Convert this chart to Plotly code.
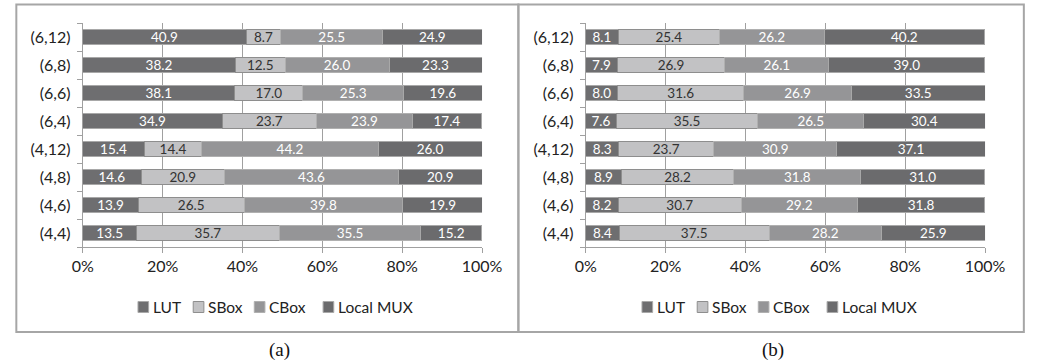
import plotly.graph_objects as go

categories = ["(4,4)", "(4,6)", "(4,8)", "(4,12)", "(6,4)", "(6,6)", "(6,8)", "(6,12)"]
series_names = ["LUT", "SBox", "CBox", "Local MUX"]

a_lut = [13.5, 13.9, 14.6, 15.4, 34.9, 38.1, 38.2, 40.9]
a_sbox = [35.7, 26.5, 20.9, 14.4, 23.7, 17.0, 12.5, 8.7]
a_cbox = [35.5, 39.8, 43.6, 44.2, 23.9, 25.3, 26.0, 25.5]
a_mux = [15.2, 19.9, 20.9, 26.0, 17.4, 19.6, 23.3, 24.9]

b_lut = [8.4, 8.2, 8.9, 8.3, 7.6, 8.0, 7.9, 8.1]
b_sbox = [37.5, 30.7, 28.2, 23.7, 35.5, 31.6, 26.9, 25.4]
b_cbox = [28.2, 29.2, 31.8, 30.9, 26.5, 26.9, 26.1, 26.2]
b_mux = [25.9, 31.8, 31.0, 37.1, 30.4, 33.5, 39.0, 40.2]

x_ticks = [0, 20, 40, 60, 80, 100]
x_tick_labels = ["0%", "20%", "40%", "60%", "80%", "100%"]

colors = ["#6e6e70", "#c2c2c4", "#959597", "#6b6b6d"]
line_colors = ["#a8a8a8", "#8e8e8e", "#b0b0b0", "#a8a8a8"]
text_colors = ["white", "#333333", "white", "white"]

W, H = 1040, 364
def px(x):
    return x / W
def py(y):
    return 1 - y / H

fig = go.Figure()

panels = [
    ([a_lut, a_sbox, a_cbox, a_mux], "x", "y"),
    ([b_lut, b_sbox, b_cbox, b_mux], "x2", "y2"),
]
for vals, xa, ya in panels:
    for i, name in enumerate(series_names):
        fig.add_trace(go.Bar(
            y=categories, x=vals[i], name=name, orientation="h",
            marker=dict(color=colors[i], line=dict(color=line_colors[i], width=1)),
            text=[f"{v:.1f}" for v in vals[i]],
            textposition="inside", insidetextanchor="middle", textangle=0,
            constraintext="none",
            textfont=dict(family="Lato", size=13.5, color=text_colors[i]),
            xaxis=xa, yaxis=ya, showlegend=False, hoverinfo="skip",
        ))

ydom = [py(247), py(23)]
xcommon = dict(range=[0, 100], tickvals=x_ticks, ticktext=x_tick_labels,
               showgrid=True, gridcolor="#a0a0a0", gridwidth=1,
               showline=True, linecolor="#a0a0a0", linewidth=1,
               ticks="outside", ticklen=5, tickcolor="#a0a0a0",
               tickfont=dict(family="Lato", size=16, color="#222222"),
               zeroline=False, fixedrange=True)
ycommon = dict(type="category", categoryorder="array", categoryarray=categories,
               showline=True, linecolor="#a0a0a0", linewidth=1,
               ticks="outside", ticklen=5, tickcolor="#a0a0a0", tickson="boundaries",
               tickfont=dict(family="Lato", size=16, color="#222222"),
               showgrid=False, domain=ydom, ticklabelstandoff=8)

shapes = [
    dict(type="rect", xref="paper", yref="paper", x0=px(5.5), x1=px(523.5),
         y0=py(332), y1=py(4.5), line=dict(color="#a6a6a6", width=2)),
    dict(type="rect", xref="paper", yref="paper", x0=px(523.5), x1=px(1045),
         y0=py(332), y1=py(4.5), line=dict(color="#a6a6a6", width=2)),
]
annotations = [
    dict(text="(a)", x=px(277), y=py(350), xref="paper", yref="paper",
         showarrow=False, xanchor="center", yanchor="middle",
         font=dict(family="Liberation Serif", size=19, color="#111111")),
    dict(text="(b)", x=px(786), y=py(350), xref="paper", yref="paper",
         showarrow=False, xanchor="center", yanchor="middle",
         font=dict(family="Liberation Serif", size=19, color="#111111")),
]

# legend (drawn as key squares + real text)
legend_offsets = [0, 520]
legend_square_x = [131, 188, 251, 322]
legend_y = 307
for off in legend_offsets:
    for i, name in enumerate(series_names):
        x0 = legend_square_x[i] + off
        shapes.append(dict(type="rect", xref="paper", yref="paper",
                           x0=px(x0), x1=px(x0 + 11), y0=py(legend_y + 5.5), y1=py(legend_y - 5.5),
                           fillcolor=colors[i], line=dict(color=line_colors[i], width=1)))
        annotations.append(dict(text=name, x=px(x0 + 13), y=py(legend_y), xref="paper", yref="paper",
                                showarrow=False, xanchor="left", yanchor="middle",
                                font=dict(family="Lato", size=15.5, color="#222222")))

fig.update_layout(
    width=W, height=H, margin=dict(l=0, r=0, t=0, b=0),
    paper_bgcolor="white", plot_bgcolor="white",
    barmode="stack", bargap=0.43,
    xaxis=dict(domain=[px(74), px(486)], anchor="y", **xcommon),
    yaxis=dict(anchor="x", **ycommon),
    xaxis2=dict(domain=[px(593), px(1005)], anchor="y2", **xcommon),
    yaxis2=dict(anchor="x2", **ycommon),
    showlegend=False,
    shapes=shapes,
    annotations=annotations,
)

fig.write_html("out.html")
